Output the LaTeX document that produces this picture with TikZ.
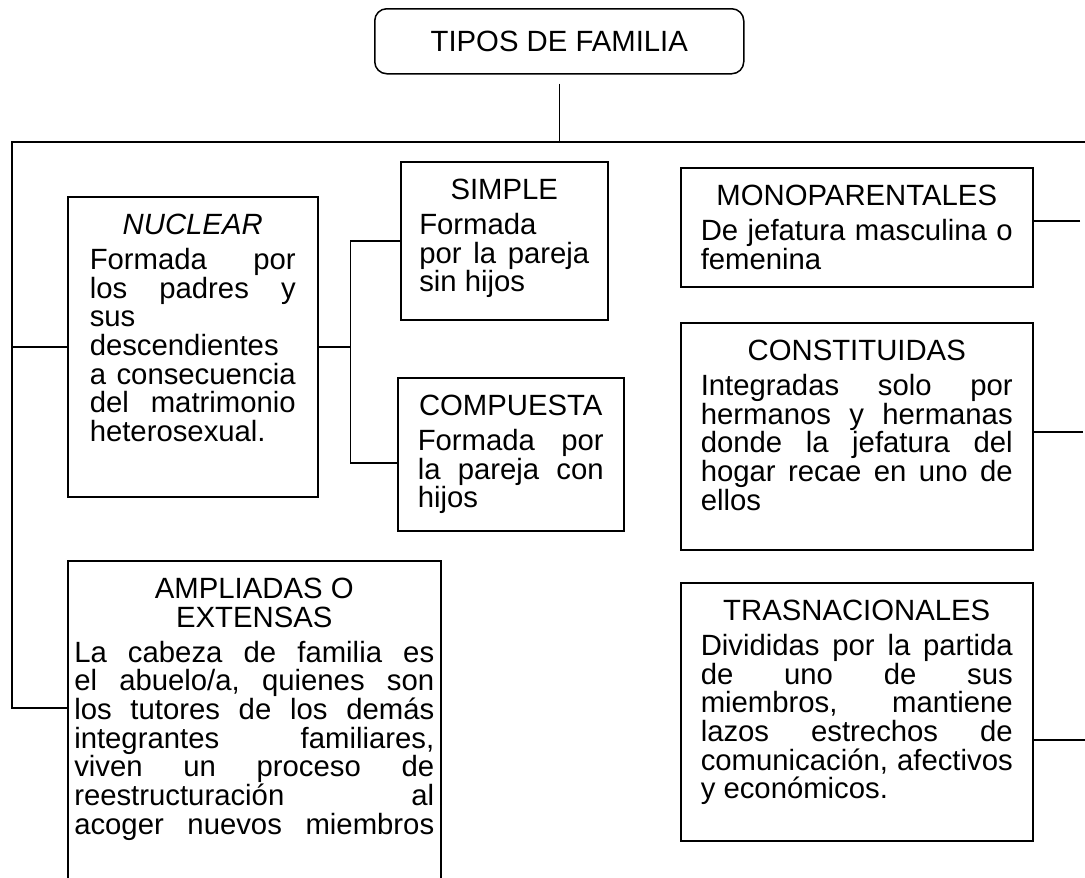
\documentclass[tikz,border=0pt]{standalone}
\usepackage{fontspec}
\setmainfont{Liberation Sans}
\tolerance=10000
\hbadness=10000
\frenchspacing
\newcommand{\tipotit}[1]{{\centering #1\par}\vspace{6pt}}

\begin{document}
\begin{tikzpicture}[x=1pt,y=-1pt,
			lin/.style={line width=1.5pt},
			caja/.style={draw, line width=1.5pt, anchor=north west, align=justify, inner ysep=17pt, text height=21pt, text depth=#1, font=\fontsize{29.3}{28.7}\selectfont},
			titulo/.style={draw, line width=1.5pt, rounded corners=12pt, anchor=north west, minimum width=369pt, minimum height=65pt, font=\fontsize{29.3}{28.7}\selectfont}]
	\useasboundingbox (0,0) rectangle (1085,878);
			\node[titulo] (tf) at (374,8) {TIPOS DE FAMILIA};
			\node[caja=245pt, text width=206pt, inner xsep=22pt] (nuc) at (67,196)
				{\tipotit{\textit{NUCLEAR}}Formada por\linebreak los padres y\linebreak sus\linebreak descendientes\linebreak a consecuencia\linebreak del matrimonio\linebreak heterosexual.};
			\node[caja=103pt, text width=170pt, inner xsep=18.5pt] (sim) at (400,161)
				{\tipotit{SIMPLE}Formada\linebreak por la pareja\linebreak sin hijos};
			\node[caja=98pt, text width=186pt, inner xsep=20pt] (comp) at (397,377)
				{\tipotit{COMPUESTA}Formada por\linebreak la pareja con\linebreak hijos};
			\node[caja=285pt, text width=360pt, inner xsep=6.5pt] (amp) at (67,560)
				{\tipotit{AMPLIADAS O\par EXTENSAS}La cabeza de familia es\linebreak el abuelo/a, quienes son\linebreak los tutores de los demás\linebreak integrantes familiares,\linebreak viven un proceso de\linebreak reestructuración al\linebreak acoger nuevos miembros\linebreak};
			\node[caja=64pt, text width=312pt, inner xsep=20pt] (mono) at (680,167)
				{\tipotit{MONOPARENTALES}De jefatura masculina o\linebreak femenina};
			\node[caja=172pt, text width=312pt, inner xsep=20pt] (cons) at (680,322)
				{\tipotit{CONSTITUIDAS}Integradas solo por\linebreak hermanos y hermanas\linebreak donde la jefatura del\linebreak hogar recae en uno de\linebreak ellos};
			\node[caja=203pt, text width=312pt, inner xsep=20pt] (tras) at (680,582)
				{\tipotit{TRASNACIONALES}Divididas por la partida\linebreak de uno de sus\linebreak miembros, mantiene\linebreak lazos estrechos de\linebreak comunicación, afectivos\linebreak y económicos.};
			\coordinate (tl) at (12,142);
			\coordinate (tr) at (1085,142);
			\coordinate (a1) at (12,708);
			\coordinate (ci) at ([yshift=-86pt]comp.north west);
			\coordinate (m1) at (1080,221);
			\coordinate (c1) at (1083,432);
			\coordinate (t1) at (1085,740);
			\draw[lin] ([yshift=-9pt]tf.south) -- (tf.south |- tl);
			\draw[lin] (tr) -- (tl) -- (a1) -- (a1 -| amp.west);
			\draw[lin] (nuc.west) -- (nuc.west -| tl);
			\draw[lin] (nuc.east) -- ++(32,0) coordinate (br);
			\draw[lin] (sim.west) -- (sim.west -| br) -- (br |- ci) -- (ci);
			\draw[lin] (m1) -- (m1 -| mono.east);
			\draw[lin] (c1) -- (c1 -| cons.east);
			\draw[lin] (t1) -- (t1 -| tras.east);
		\end{tikzpicture}
\end{document}
